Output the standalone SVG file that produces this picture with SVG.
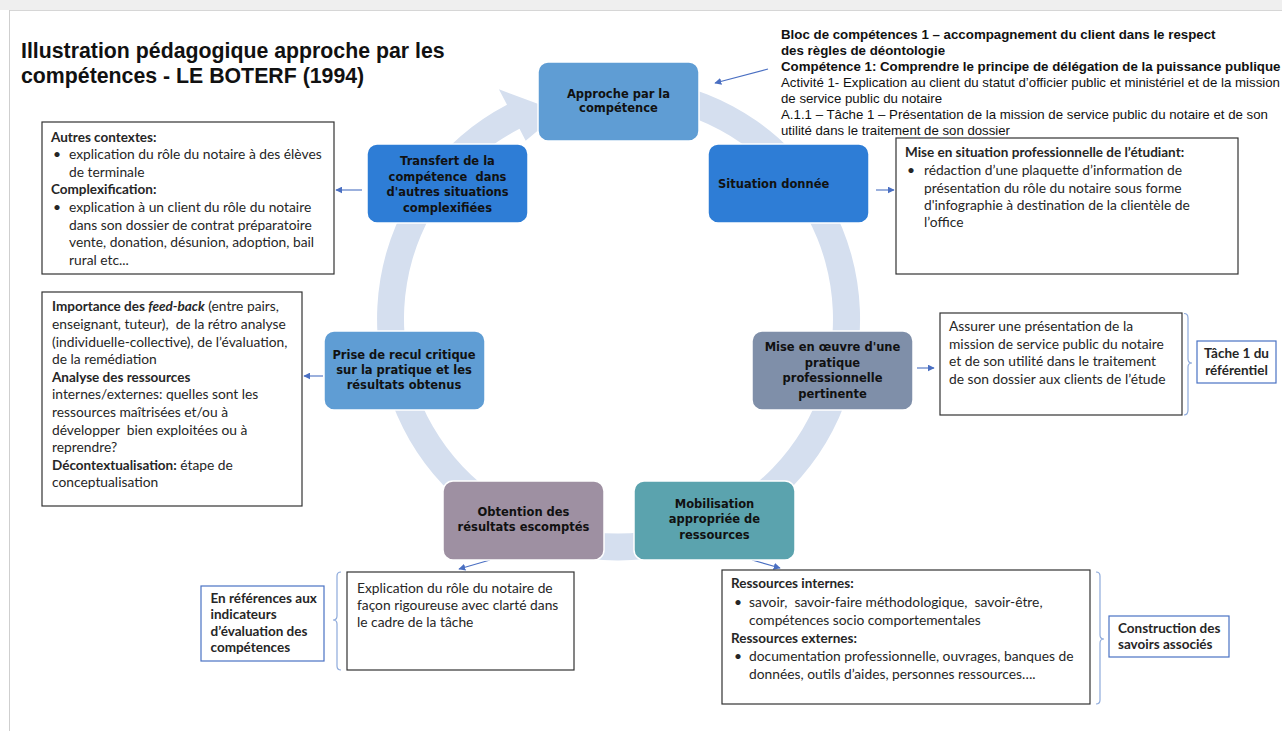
<svg xmlns="http://www.w3.org/2000/svg" width="1282" height="731" viewBox="0 0 1282 731">
<defs>
<style>
.t{font-family:Lato,"Open Sans","Liberation Sans",sans-serif;font-size:13.8px;fill:#262626}
.b{font-weight:700;font-size:13.5px}
.n{font-family:"DejaVu Sans","Liberation Sans",sans-serif;font-weight:700;font-size:11.5px;text-anchor:middle;fill:#111}
.ns{text-anchor:start}
.h{font-family:"Liberation Sans",Arial,sans-serif;fill:#111}
.box{fill:#fff;stroke:#333;stroke-width:1.2}
.lbl{fill:#fff;stroke:#4a72c4;stroke-width:1.2}
.br{fill:none;stroke:#8eaadb;stroke-width:1.2}
.con{fill:none;stroke:#4a6fc2;stroke-width:1.1;marker-end:url(#ah)}
.node{stroke:#fff;stroke-width:1.5}
</style>
<marker id="ah" viewBox="0 0 10 10" refX="9" refY="5" markerWidth="7" markerHeight="7" markerUnits="userSpaceOnUse" orient="auto">
<path d="M0,0 L10,5 L0,10 Z" fill="#4a6fc2"/>
</marker>
</defs>
<rect x="0" y="0" width="1282" height="731" fill="#fff"/>
<rect x="0" y="0" width="1282" height="10" fill="#efefef"/>
<line x1="9" y1="10.5" x2="1282" y2="10.5" stroke="#d6d6d6"/>
<line x1="9.5" y1="10" x2="9.5" y2="731" stroke="#cfcfcf"/>

<g id="title">
<text class="h" font-weight="700" font-size="21.3" x="21" y="57.5">Illustration pédagogique approche par les</text>
<text class="h" font-weight="700" font-size="21.3" x="21" y="82.5">compétences - LE BOTERF (1994)</text>
</g>

<g id="cycle-ring">
<path fill="#d5dfef" d="M681.0,85.7 A241.5,241.5 0 1 1 507.0,104.8 L498.9,89.3 L560,112 L525.7,140.7 L519.5,128.7 A214.5,214.5 0 1 0 674.0,111.8 Z"/>
</g>

<g id="connectors">
<line class="con" x1="768" y1="69" x2="715" y2="83"/>
<line class="con" x1="876" y1="190" x2="894" y2="190"/>
<line class="con" x1="917" y1="368" x2="934" y2="368"/>
<line class="con" x1="752" y1="560" x2="780" y2="568"/>
<line class="con" x1="490" y1="560" x2="459" y2="569"/>
<line class="con" x1="323" y1="376" x2="304" y2="376"/>
<line class="con" x1="362" y1="190" x2="336" y2="190"/>
<path class="br" d="M1184,313.5 Q1188,313.5 1188,318 L1188,359 Q1188,363 1192,363 Q1188,363 1188,367 L1188,410 Q1188,415 1184,415"/>
<path class="br" d="M1096,572 Q1100,572 1100,576 L1100,635 Q1100,639 1104,639 Q1100,639 1100,643 L1100,700 Q1100,704 1096,704"/>
<path class="br" d="M341,572 Q337,572 337,576 L337,616 Q337,620 333,620 Q337,620 337,624 L337,666 Q337,670 341,670"/>
</g>

<g id="node-approche">
<rect class="node" x="538" y="62" width="161" height="79" rx="10" fill="#5f9dd4"/>
<text class="n" x="618.5" y="97.5">Approche par la</text>
<text class="n" x="618.5" y="111.5">compétence</text>
</g>
<g id="node-situation">
<rect class="node" x="708" y="144" width="161" height="79" rx="10" fill="#2e7dd6"/>
<text class="n ns" x="718" y="187.5">Situation donnée</text>
</g>
<g id="node-mise-en-oeuvre">
<rect class="node" x="752" y="331" width="161" height="79" rx="10" fill="#7f8fa9"/>
<text class="n" x="832.5" y="351">Mise en œuvre d'une</text>
<text class="n" x="832.5" y="366.5">pratique</text>
<text class="n" x="832.5" y="382">professionnelle</text>
<text class="n" x="832.5" y="397.5">pertinente</text>
</g>
<g id="node-mobilisation">
<rect class="node" x="634" y="481" width="161" height="79" rx="10" fill="#5ba3ae"/>
<text class="n" x="714.5" y="507.5">Mobilisation</text>
<text class="n" x="714.5" y="523">appropriée de</text>
<text class="n" x="714.5" y="538.5">ressources</text>
</g>
<g id="node-obtention">
<rect class="node" x="443" y="481" width="161" height="79" rx="10" fill="#9e90a2"/>
<text class="n" x="523.5" y="516">Obtention des</text>
<text class="n" x="523.5" y="530.5">résultats escomptés</text>
</g>
<g id="node-prise">
<rect class="node" x="324" y="331" width="161" height="79" rx="10" fill="#5f9dd4"/>
<text class="n" x="404" y="358.5">Prise de recul critique</text>
<text class="n" x="404" y="373.5">sur la pratique et les</text>
<text class="n" x="404" y="388.5">résultats obtenus</text>
</g>
<g id="node-transfert">
<rect class="node" x="367" y="144" width="161" height="79" rx="10" fill="#2e7dd6"/>
<text class="n" x="447.5" y="165">Transfert de la</text>
<text class="n" x="447.5" y="180.5">compétence&#160; dans</text>
<text class="n" x="447.5" y="196">d'autres situations</text>
<text class="n" x="447.5" y="211.5">complexifiées</text>
</g>

<g id="bloc-competences">
<text class="h" font-weight="700" font-size="13.3" x="781" y="38.5">Bloc de compétences 1 – accompagnement du client dans le respect</text>
<text class="h" font-weight="700" font-size="13.3" x="781" y="54.5">des règles de déontologie</text>
<text class="h" font-weight="700" font-size="13.3" x="781" y="70.5">Compétence 1: Comprendre le principe de délégation de la puissance publique</text>
<text class="h" font-size="13" x="781" y="86.5" textLength="499" lengthAdjust="spacingAndGlyphs">Activité 1- Explication au client du statut d’officier public et ministériel et de la mission</text>
<text class="h" font-size="13" x="781" y="102.5" textLength="161" lengthAdjust="spacingAndGlyphs">de service public du notaire</text>
<text class="h" font-size="13" x="781" y="118.5" textLength="487" lengthAdjust="spacingAndGlyphs">A.1.1 – Tâche 1 – Présentation de la mission de service public du notaire et de son</text>
<text class="h" font-size="13" x="781" y="134.5" textLength="229" lengthAdjust="spacingAndGlyphs">utilité dans le traitement de son dossier</text>
</g>

<g id="box-mise-en-situation">
<rect class="box" x="896" y="138" width="342" height="136"/>
<text class="t b" x="905" y="157">Mise en situation professionnelle de l’étudiant:</text>
<text class="t" x="907" y="175">•</text>
<text class="t" x="924" y="175">rédaction d’une plaquette d’information de</text>
<text class="t" x="924" y="192.5">présentation du rôle du notaire sous forme</text>
<text class="t" x="924" y="210">d'infographie à destination de la clientèle de</text>
<text class="t" x="924" y="227">l’office</text>
</g>

<g id="box-autres-contextes">
<rect class="box" x="42" y="122" width="292" height="152"/>
<text class="t b" x="51" y="142">Autres contextes:</text>
<text class="t" x="53" y="159">•</text>
<text class="t" x="69" y="159">explication du rôle du notaire à des élèves</text>
<text class="t" x="69" y="176.5">de terminale</text>
<text class="t b" x="51" y="194">Complexification:</text>
<text class="t" x="53" y="212">•</text>
<text class="t" x="69" y="212">explication à un client du rôle du notaire</text>
<text class="t" x="69" y="229.5">dans son dossier de contrat préparatoire</text>
<text class="t" x="69" y="247">vente, donation, désunion, adoption, bail</text>
<text class="t" x="69" y="264.5">rural etc...</text>
</g>

<g id="box-feedback">
<rect class="box" x="42" y="292" width="260" height="214"/>
<text class="t" x="52" y="311"><tspan class="b">Importance des </tspan><tspan class="b" font-style="italic">feed-back</tspan> (entre pairs,</text>
<text class="t" x="52" y="329">enseignant, tuteur),&#160; de la rétro analyse</text>
<text class="t" x="52" y="346.5">(individuelle-collective), de l’évaluation,</text>
<text class="t" x="52" y="364">de la remédiation</text>
<text class="t b" x="52" y="381.5">Analyse des ressources</text>
<text class="t" x="52" y="399">internes/externes: quelles sont les</text>
<text class="t" x="52" y="417">ressources maîtrisées et/ou à</text>
<text class="t" x="52" y="434.5">développer&#160; bien exploitées ou à</text>
<text class="t" x="52" y="452">reprendre?</text>
<text class="t" x="52" y="470"><tspan class="b">Décontextualisation:</tspan> étape de</text>
<text class="t" x="52" y="487">conceptualisation</text>
</g>

<g id="box-assurer">
<rect class="box" x="940" y="313" width="242" height="102"/>
<text class="t" x="949" y="331">Assurer une présentation de la</text>
<text class="t" x="949" y="348.5">mission de service public du notaire</text>
<text class="t" x="949" y="366">et de son utilité dans le traitement</text>
<text class="t" x="949" y="383.5">de son dossier aux clients de l’étude</text>
</g>
<g id="label-tache">
<rect class="lbl" x="1197" y="341" width="79" height="42"/>
<text class="t b" x="1236.5" y="358" text-anchor="middle">Tâche 1 du</text>
<text class="t b" x="1236.5" y="374.5" text-anchor="middle">référentiel</text>
</g>

<g id="box-ressources">
<rect class="box" x="722" y="570" width="368" height="134"/>
<text class="t b" x="731" y="588">Ressources internes:</text>
<text class="t" x="734" y="607">•</text>
<text class="t" x="749" y="607">savoir,&#160; savoir-faire méthodologique,&#160; savoir-être,</text>
<text class="t" x="749" y="625">compétences socio comportementales</text>
<text class="t b" x="731" y="643">Ressources externes:</text>
<text class="t" x="734" y="661">•</text>
<text class="t" x="749" y="661">documentation professionnelle, ouvrages, banques de</text>
<text class="t" x="749" y="678.5">données, outils d’aides, personnes ressources….</text>
</g>
<g id="label-construction">
<rect class="lbl" x="1109" y="616" width="120" height="41"/>
<text class="t b" x="1118" y="633">Construction des</text>
<text class="t b" x="1118" y="649">savoirs associés</text>
</g>

<g id="box-explication">
<rect class="box" x="347" y="572" width="227" height="98"/>
<text class="t" x="357" y="593">Explication du rôle du notaire de</text>
<text class="t" x="357" y="610">façon rigoureuse avec clarté dans</text>
<text class="t" x="357" y="627">le cadre de la tâche</text>
</g>
<g id="label-references">
<rect class="lbl" x="201" y="586" width="123" height="75"/>
<text class="t b" x="210.5" y="603">En références aux</text>
<text class="t b" x="210.5" y="619">indicateurs</text>
<text class="t b" x="210.5" y="635.5">d’évaluation des</text>
<text class="t b" x="210.5" y="652">compétences</text>
</g>
</svg>
